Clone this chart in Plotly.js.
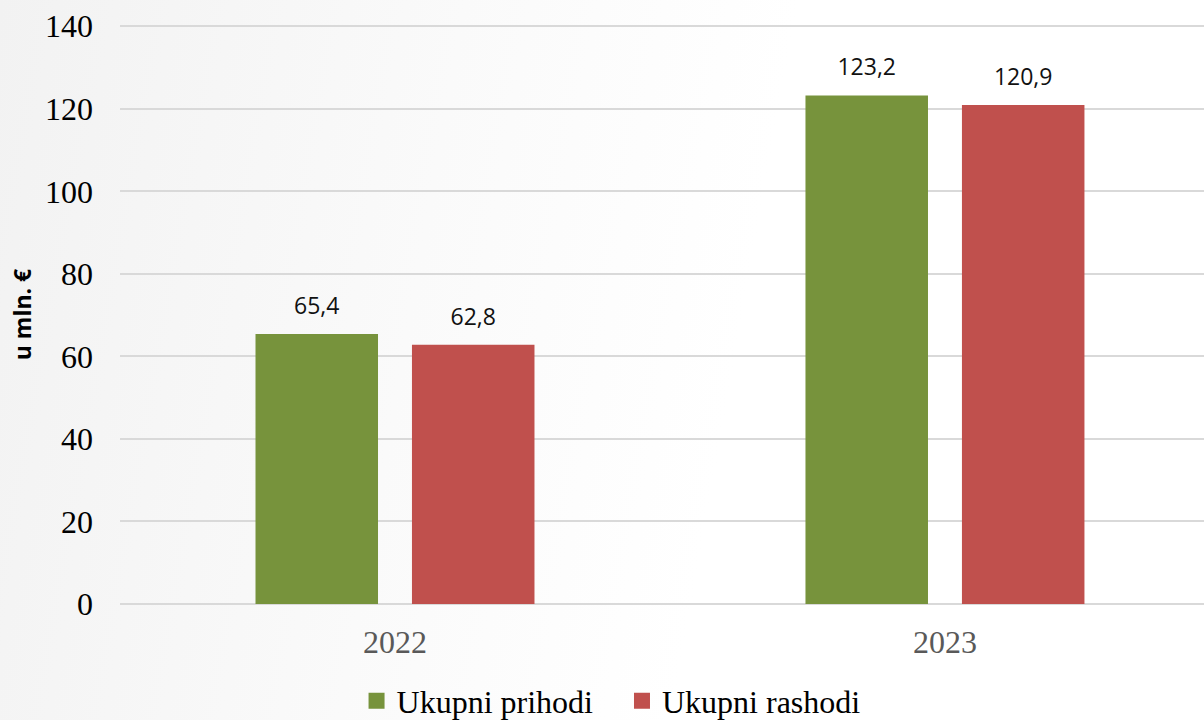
<!DOCTYPE html>
<html><head><meta charset="utf-8">
<script src="https://cdn.plot.ly/plotly-3.0.1.min.js"></script>
<style>html,body{margin:0;padding:0;background:linear-gradient(100deg,#f2f2f2 0%,#fafafa 35%,#ffffff 60%);}#chart{width:1204px;height:720px;}</style>
</head><body><div id="chart"></div>
<script>
const categories = ['2022', '2023'];
const prihodi = [65.4, 123.2];
const rashodi = [62.8, 120.9];
const seriesNames = ['Ukupni prihodi', 'Ukupni rashodi'];
const colors = ['#77933C', '#C0504D'];
const fmt = v => '<span style="font-size:23px">' + v.toFixed(1).replace('.', ',') + '</span><br> ';
const labelFont = {family: 'Open Sans, Noto Sans, sans-serif', size: 11, color: '#111111'};
const serif = 'Liberation Serif, Times New Roman, serif';
const pad = '\u00a0\u00a0\u00a0';
const traces = [
  {type: 'bar', name: seriesNames[0], x: categories, y: prihodi, marker: {color: colors[0]}, showlegend: false,
   text: prihodi.map(fmt), textposition: 'outside', constraintext: 'none', textfont: labelFont, cliponaxis: false, hoverinfo: 'none'},
  {type: 'bar', name: seriesNames[1], x: categories, y: rashodi, marker: {color: colors[1]}, showlegend: false,
   text: rashodi.map(fmt), textposition: 'outside', constraintext: 'none', textfont: labelFont, cliponaxis: false, hoverinfo: 'none'},
  {type: 'scatter', mode: 'markers', name: seriesNames[0] + pad, x: [null], y: [null],
   marker: {symbol: 'square', size: 16, color: colors[0]}, hoverinfo: 'none'},
  {type: 'scatter', mode: 'markers', name: seriesNames[1], x: [null], y: [null],
   marker: {symbol: 'square', size: 16, color: colors[1]}, hoverinfo: 'none'}
];
const layout = {
  width: 1204, height: 720,
  paper_bgcolor: 'rgba(0,0,0,0)', plot_bgcolor: 'rgba(0,0,0,0)',
  margin: {l: 120, r: 0, t: 25, b: 116, autoexpand: false},
  barmode: 'group', bargap: 0.431, bargroupgap: 0.217,
  xaxis: {type: 'category', range: [-0.5, 1.471], showgrid: false, zeroline: false, showline: false,
    ticks: '', ticklabelstandoff: 16, tickfont: {family: serif, size: 32, color: '#595959'}},
  yaxis: {range: [0, 140.3], tickvals: [0, 20, 40, 60, 80, 100, 120, 140], showgrid: true, gridcolor: '#d9d9d9', gridwidth: 2,
    zeroline: true, zerolinecolor: '#d9d9d9', zerolinewidth: 2, showline: false, ticks: '',
    ticklabelstandoff: 26,
    tickfont: {family: serif, size: 32, color: '#000000'},
    title: {text: '<b>u mln. €</b>', standoff: 6, font: {family: 'Open Sans, Noto Sans, sans-serif', size: 23, color: '#000'}}},
  showlegend: true,
  legend: {orientation: 'h', x: 0.453, xanchor: 'center', xref: 'paper', y: -0.12, yanchor: 'top',
    font: {family: serif, size: 32, color: '#000'},
    itemwidth: 30, traceorder: 'normal', bgcolor: 'rgba(0,0,0,0)'}
};
Plotly.newPlot('chart', traces, layout, {staticPlot: true});
</script></body></html>
